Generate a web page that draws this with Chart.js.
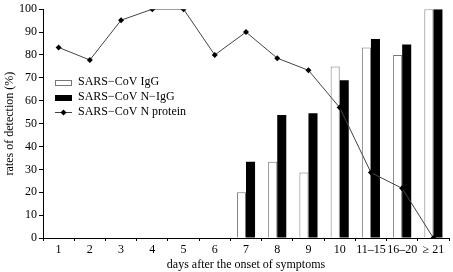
<!DOCTYPE html>
<html>
<head>
<meta charset="utf-8">
<script src="https://cdn.jsdelivr.net/npm/chart.js@4/dist/chart.umd.min.js"></script>
<style>
  html, body { margin: 0; padding: 0; background: #fff; }
  #wrap { width: 453px; height: 272px; }
</style>
</head>
<body>
<div id="wrap"><canvas id="chart"></canvas></div>
<script>
// Data
const days = ["1", "2", "3", "4", "5", "6", "7", "8", "9", "10", "11\u201315", "16\u201320", "\u2265 21"];
const igg = [null, null, null, null, null, null, 20, 33.3, 28.6, 75, 83.3, 80, 100];
const nIgg = [null, null, null, null, null, null, 33.3, 53.8, 54.5, 69, 87, 84.6, 100];
const nProtein = [83.3, 77.8, 95.2, 100, 100, 80, 90, 78.6, 73.3, 57, 28.6, 21.7, 0];
const yTicks = [0, 10, 20, 30, 40, 50, 60, 70, 80, 90, 100];

const serif = "'Liberation Serif', 'DejaVu Serif', serif";

// legend drawn inside the plot area
const innerLegend = {
    id: "innerLegend",
    afterDraw: chart => {
        const ctx = chart.ctx;
        const x = 55, y0 = 82, step = 15;
        ctx.save();
        ctx.font = "12px " + serif;
        ctx.textBaseline = "middle";
        chart.data.datasets.forEach((ds, i) => {
            const y = y0 + i * step;
            if (ds.type === "line") {
                ctx.strokeStyle = "#444";
                ctx.lineWidth = 1;
                ctx.beginPath();
                ctx.moveTo(x, y + 0.5);
                ctx.lineTo(x + 17, y + 0.5);
                ctx.stroke();
                ctx.fillStyle = "#000";
                ctx.beginPath();
                ctx.moveTo(x + 8.5, y - 2.5);
                ctx.lineTo(x + 11.5, y + 0.5);
                ctx.lineTo(x + 8.5, y + 3.5);
                ctx.lineTo(x + 5.5, y + 0.5);
                ctx.closePath();
                ctx.fill();
            } else {
                ctx.fillStyle = ds.backgroundColor;
                ctx.fillRect(x, y - 2, 17, 6);
                ctx.strokeStyle = ds.borderColor;
                ctx.lineWidth = 1;
                ctx.strokeRect(x + 0.5, y - 1.5, 16, 5);
            }
            ctx.fillStyle = "#000";
            ctx.fillText(ds.label, x + 23, y);
        });
        ctx.restore();
    }
};

let initChart = ctx => {
    const config = {
        type: "bar",
        data: {
            labels: days,
            datasets: [
                {
                    label: "SARS\u2212CoV IgG",
                    data: igg,
                    backgroundColor: "#fff",
                    borderColor: "#777",
                    borderWidth: 1,
                    order: 1
                },
                {
                    label: "SARS\u2212CoV N\u2212IgG",
                    data: nIgg,
                    backgroundColor: "#000",
                    borderColor: "#000",
                    borderWidth: 0,
                    order: 1
                },
                {
                    type: "line",
                    label: "SARS\u2212CoV N protein",
                    data: nProtein,
                    borderColor: "#444",
                    borderWidth: 1,
                    pointStyle: "rectRot",
                    pointRadius: 3,
                    pointBackgroundColor: "#000",
                    pointBorderColor: "#000",
                    pointBorderWidth: 0,
                    order: 0
                }
            ]
        },
        options: {
            responsive: true,
            maintainAspectRatio: false,
            animation: false,
            layout: { padding: { top: 6, right: 0, left: 3, bottom: 0 } },
            datasets: {
                bar: { categoryPercentage: 0.58, barPercentage: 1 }
            },
            plugins: {
                legend: { display: false },
                tooltip: { enabled: false }
            },
            scales: {
                x: {
                    afterFit: scale => { scale.height = 34; },
                    grid: { display: true, drawOnChartArea: false, tickLength: 3, color: "#000" },
                    border: { display: true, color: "#000" },
                    ticks: { color: "#000", font: { family: serif, size: 12 }, maxRotation: 0, autoSkip: false, padding: 2 },
                    title: { display: true, text: "days after the onset of symptoms", color: "#000", font: { family: serif, size: 12 }, padding: { top: 1, bottom: 0 } }
                },
                y: {
                    min: 0,
                    max: 100,
                    afterBuildTicks: scale => { scale.ticks = yTicks.map(v => ({ value: v })); },
                    afterFit: scale => { scale.width = 40; },
                    grid: { display: true, drawOnChartArea: false, tickLength: 4, color: "#000" },
                    border: { display: true, color: "#000" },
                    ticks: { color: "#000", font: { family: serif, size: 12 }, padding: 2 },
                    title: { display: true, text: "rates of detection (%)", color: "#000", font: { family: serif, size: 12 }, padding: 0 }
                }
            }
        },
        plugins: [innerLegend]
    };
    new Chart(ctx, config);
};

initChart(document.getElementById("chart"));
</script>
</body>
</html>
